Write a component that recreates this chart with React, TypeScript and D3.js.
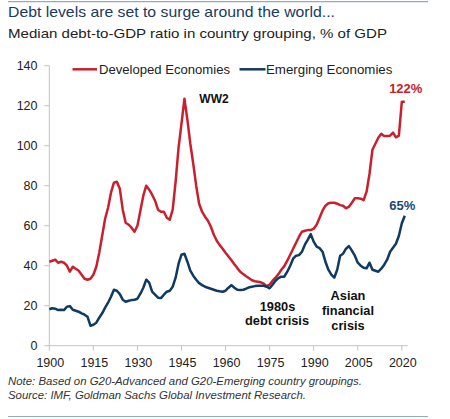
import React from 'react';
import * as d3 from 'd3';

// median debt-to-GDP, % of GDP, one value per year from 1900
const firstYear = 1900;

const developed: number[] = [
  42, 42.5, 43, 41.5, 42, 41.5, 40, 37, 39.5, 38.5, // 1900s
  37.5, 35.5, 33.5, 33, 33.5, 35.5, 39.5, 46.5, 55, 63.5, // 1910s
  69, 76.5, 81.5, 82, 78.5, 68, 61.5, 60.5, 59, 57, // 1920s
  60, 67.5, 75, 80, 78, 75.5, 72.5, 68, 67, 67, // 1930s
  64, 63, 68, 82, 99, 111, 123.5, 113, 101, 91, // 1940s
  80, 71, 67, 64.5, 62.5, 59.5, 55.5, 52.5, 50.3, 48.5, // 1950s
  46.5, 44.6, 42.7, 40.7, 38.8, 37, 35.8, 34.7, 33.7, 32.7, // 1960s
  32.2, 32, 31.7, 31, 29.8, 30.5, 32.5, 34, 35.8, 38, // 1970s
  39.8, 42.5, 45.5, 48.5, 51.5, 54.5, 57, 57.5, 57.8, 57.8, // 1980s
  58.5, 60.5, 64, 67.5, 70, 71.2, 71.5, 71.5, 71, 70.3, // 1990s
  70, 68.7, 69.5, 71.5, 73.7, 73.7, 73.5, 72.8, 77, 86, // 2000s
  98, 101, 104, 106, 104.8, 104.8, 105, 106.5, 104.2, 105, // 2010s
  122, 122, // 2020-21
];

const emerging: number[] = [
  18.2, 18.7, 18.5, 17.8, 18, 17.8, 19.5, 19.8, 18, 17.5,
  17, 16.2, 15.5, 14.5, 10, 10.5, 11.5, 14, 16.2, 19,
  21.5, 24.5, 28, 27.5, 25.8, 23, 22, 22.5, 22.8, 23,
  23.5, 26, 29, 33, 31.5, 27, 25.5, 24, 23.8, 25.5,
  27, 27.5, 29.5, 34, 41, 45.5, 46, 42, 37.5, 35,
  33, 31.3, 30.3, 29.5, 29, 28.5, 28, 27.5, 27.2, 27,
  27.5, 29, 30.3, 29, 28, 27.8, 28, 28.5, 29.2, 29.5,
  29.8, 30, 30, 30, 29.5, 28.7, 30.5, 32.5, 33.8, 34.5,
  34.5, 37, 40, 43.5, 45, 45.3, 47, 50.5, 53, 55.8,
  52, 49.5, 48.8, 47, 42, 38, 35.5, 34, 38, 45,
  46, 48.5, 49.8, 47.5, 45, 41.5, 40, 39, 38.7, 41.5,
  38, 37.5, 37, 38.5, 40.5, 43, 47, 49, 51, 55,
  61.2, 65,
];

const yTicks = [0, 20, 40, 60, 80, 100, 120, 140];
const xTicks = [1900, 1915, 1930, 1945, 1960, 1975, 1990, 2005, 2020];

const seriesNames = ['Developed Economies', 'Emerging Economies'];
const colors = ['#c8202f', '#0f3a63'];

const font = '"Liberation Sans", Arial, sans-serif';

const App: React.FC = () => {
  const width = 450;
  const height = 419;

  const x = d3.scaleLinear([1900, 2022], [49.3, 407.7]);
  const y = d3.scaleLinear([0, 140], [345.7, 65.7]);

  const line = d3
    .line<number>()
    .x((_, i) => x(firstYear + i))
    .y((d) => y(d));

  const lastYear = firstYear + developed.length - 1;
  const devLast = developed[developed.length - 1];
  const emLast = emerging[emerging.length - 1];

  return (
    <svg
      width={width}
      height={height}
      style={{ position: 'fixed', left: 0, top: 0, background: '#fff' }}
      fontFamily={font}
    >
      <line x1={8} x2={428} y1={1.7} y2={1.7} stroke="#8faacb" strokeWidth={1.2} />
      <text x={8} y={17.3} fontSize={15} fill="#1b3a5e" textLength={327} lengthAdjust="spacingAndGlyphs">
        Debt levels are set to surge around the world...
      </text>
      <text x={8} y={38.3} fontSize={13.5} fill="#222" textLength={379} lengthAdjust="spacingAndGlyphs">
        Median debt-to-GDP ratio in country grouping, % of GDP
      </text>

      {/* axes */}
      <line x1={x(1900)} x2={x(1900)} y1={y(140)} y2={y(0)} stroke="#c4c4c4" strokeWidth={1} />
      <line x1={x(1900)} x2={x(2022)} y1={y(0)} y2={y(0)} stroke="#c4c4c4" strokeWidth={1} />
      {yTicks.map((t) => (
        <g key={t}>
          <line x1={x(1900) - 5} x2={x(1900)} y1={y(t)} y2={y(t)} stroke="#c4c4c4" />
          <text x={37.5} y={y(t) + 4.5} fontSize={12.5} textAnchor="end" fill="#222">
            {t}
          </text>
        </g>
      ))}
      {xTicks.map((t) => (
        <g key={t}>
          <line x1={x(t)} x2={x(t)} y1={y(0)} y2={y(0) + 5} stroke="#c4c4c4" />
          <text x={x(t) + 1} y={366.5} fontSize={12.5} textAnchor="middle" fill="#222">
            {t}
          </text>
        </g>
      ))}

      {/* series */}
      <path d={line(developed) ?? ''} fill="none" stroke={colors[0]} strokeWidth={2.5} strokeLinejoin="round" />
      <path d={line(emerging) ?? ''} fill="none" stroke={colors[1]} strokeWidth={2.5} strokeLinejoin="round" />

      {/* legend */}
      <line x1={72.5} x2={97} y1={69.3} y2={69.3} stroke={colors[0]} strokeWidth={2.5} />
      <text x={99} y={73.8} fontSize={13.1} fill="#222">{seriesNames[0]}</text>
      <line x1={239.5} x2={265.5} y1={69.3} y2={69.3} stroke={colors[1]} strokeWidth={2.5} />
      <text x={266} y={73.8} fontSize={13.3} fill="#222">{seriesNames[1]}</text>

      {/* end labels */}
      <text x={x(lastYear) + 1} y={y(devLast) - 8.5} fontSize={13} fontWeight="bold" textAnchor="middle" fill={colors[0]}>
        {devLast}%
      </text>
      <text x={x(lastYear) - 2.5} y={y(emLast) - 6} fontSize={13} fontWeight="bold" textAnchor="middle" fill="#1a4a78">
        {emLast}%
      </text>

      {/* annotations */}
      <g fontSize={12.8} fontWeight="bold" fill="#111" textAnchor="middle">
        <text x={214} y={103} fontSize={12}>WW2</text>
        <text x={277.5} y={310.5}>1980s</text>
        <text x={277} y={325}>debt crisis</text>
        <text x={348} y={300}>Asian</text>
        <text x={348} y={315}>financial</text>
        <text x={348} y={330}>crisis</text>
      </g>

      {/* footnotes */}
      <g fontSize={11.4} fontStyle="italic" fill="#333">
        <text x={8} y={385}>Note: Based on G20-Advanced and G20-Emerging country groupings.</text>
        <text x={8} y={398.5}>Source: IMF, Goldman Sachs Global Investment Research.</text>
      </g>
      <line x1={8} x2={428} y1={416.5} y2={416.5} stroke="#8faacb" strokeWidth={1.2} />
    </svg>
  );
};

export default App;
